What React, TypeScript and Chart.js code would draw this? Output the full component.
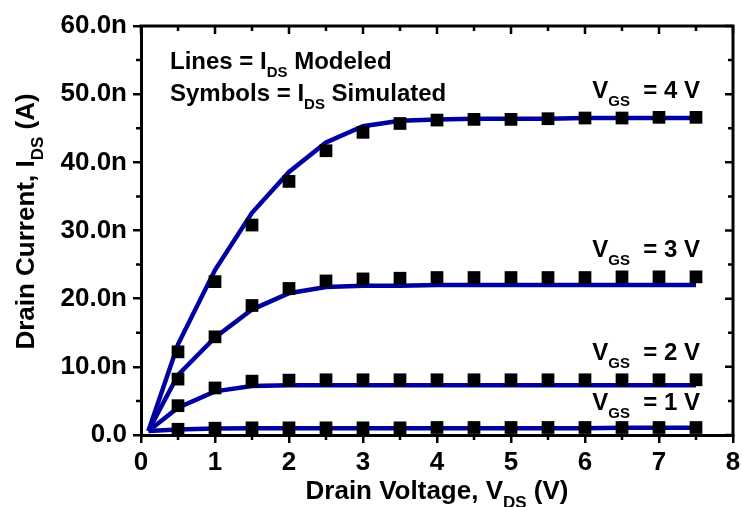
import React, { useEffect, useRef } from 'react';
import { Chart, registerables } from 'chart.js';

Chart.register(...registerables);

// ---------- data ----------
const vdsModeled = [0.1, 0.5, 1, 1.5, 2, 2.5, 3, 3.5, 4, 4.5, 5, 5.5, 6, 6.5, 7, 7.5];
const vdsSimulated = [0.5, 1, 1.5, 2, 2.5, 3, 3.5, 4, 4.5, 5, 5.5, 6, 6.5, 7, 7.5];

const modeledVgs4 = [0.6, 13.3, 24.2, 32.6, 38.6, 42.9, 45.3, 46.1, 46.3, 46.4, 46.4, 46.4, 46.5, 46.5, 46.5, 46.5];
const modeledVgs3 = [0.6, 8.8, 14.3, 18.4, 20.8, 21.7, 21.9, 21.9, 22.0, 22.0, 22.0, 22.0, 22.0, 22.0, 22.0, 22.0];
const modeledVgs2 = [0.6, 4.0, 6.4, 7.2, 7.3, 7.3, 7.3, 7.3, 7.3, 7.3, 7.3, 7.3, 7.3, 7.3, 7.3, 7.3];
const modeledVgs1 = [0.6, 0.8, 0.95, 1.0, 1.0, 1.0, 1.0, 1.0, 1.0, 1.0, 1.0, 1.0, 1.0, 1.05, 1.05, 1.05];

const simulatedVgs4 = [12.2, 22.5, 30.8, 37.2, 41.7, 44.4, 45.7, 46.2, 46.3, 46.3, 46.4, 46.5, 46.5, 46.6, 46.6];
const simulatedVgs3 = [8.2, 14.4, 19.0, 21.5, 22.6, 22.9, 23.0, 23.1, 23.1, 23.1, 23.1, 23.1, 23.2, 23.2, 23.2];
const simulatedVgs2 = [4.3, 6.9, 7.9, 8.05, 8.1, 8.1, 8.1, 8.1, 8.1, 8.1, 8.1, 8.1, 8.1, 8.1, 8.1];
const simulatedVgs1 = [0.84, 1.0, 1.05, 1.05, 1.05, 1.05, 1.05, 1.1, 1.1, 1.1, 1.1, 1.1, 1.1, 1.1, 1.1];

const xTickValues = [0, 1, 2, 3, 4, 5, 6, 7, 8];
const yTickValues = [0, 10, 20, 30, 40, 50, 60];
const xMinorTicks = [0.5, 1.5, 2.5, 3.5, 4.5, 5.5, 6.5, 7.5];
const yMinorTicks = [5, 15, 25, 35, 45, 55];

const vgsLabels = ['4', '3', '2', '1'];

const FONT = '"Liberation Sans", Arial, Helvetica, sans-serif';
const BLUE = '#0000A0';

type Part = { t: string; sub?: boolean };

function drawRich(
  ctx: CanvasRenderingContext2D,
  x: number,
  y: number,
  parts: Part[],
  size: number,
  subSize: number,
  align: 'left' | 'center' | 'right'
) {
  let w = 0;
  const widths: number[] = [];
  for (const p of parts) {
    ctx.font = `bold ${p.sub ? subSize : size}px ${FONT}`;
    const m = ctx.measureText(p.t).width;
    widths.push(m);
    w += m;
  }
  let cx = align === 'right' ? x - w : align === 'center' ? x - w / 2 : x;
  ctx.textAlign = 'left';
  ctx.textBaseline = 'alphabetic';
  parts.forEach((p, i) => {
    ctx.font = `bold ${p.sub ? subSize : size}px ${FONT}`;
    ctx.fillText(p.t, cx, p.sub ? y + subSize * 0.55 : y);
    cx += widths[i];
  });
}

const decorPlugin = {
  id: 'decor',
  afterDraw(chart: any) {
    const ctx: CanvasRenderingContext2D = chart.ctx;
    const { left, right, top, bottom } = chart.chartArea;
    const xs = chart.scales.x;
    const ys = chart.scales.y;
    ctx.save();
    ctx.strokeStyle = '#000';
    ctx.fillStyle = '#000';

    // top and right frame lines
    ctx.lineWidth = 3;
    ctx.beginPath();
    ctx.moveTo(left - 1.5, top);
    ctx.lineTo(right, top);
    ctx.lineTo(right, bottom + 1.5);
    ctx.stroke();

    ctx.lineWidth = 2.5;
    ctx.beginPath();
    xTickValues.forEach((v) => {
      const px = xs.getPixelForValue(v);
      ctx.moveTo(px, top);
      ctx.lineTo(px, top + 8);
    });
    xMinorTicks.forEach((v) => {
      const px = xs.getPixelForValue(v);
      ctx.moveTo(px, top);
      ctx.lineTo(px, top + 5);
    });
    yTickValues.forEach((v) => {
      const py = ys.getPixelForValue(v);
      ctx.moveTo(right, py);
      ctx.lineTo(right - 8, py);
    });
    yMinorTicks.forEach((v) => {
      const py = ys.getPixelForValue(v);
      ctx.moveTo(right, py);
      ctx.lineTo(right - 5, py);
    });
    xMinorTicks.forEach((v) => {
      const px = xs.getPixelForValue(v);
      ctx.moveTo(px, bottom);
      ctx.lineTo(px, bottom + 5);
    });
    yMinorTicks.forEach((v) => {
      const py = ys.getPixelForValue(v);
      ctx.moveTo(left, py);
      ctx.lineTo(left - 5, py);
    });
    ctx.stroke();

    // annotations
    drawRich(ctx, 170, 69, [{ t: 'Lines = I' }, { t: 'DS', sub: true }, { t: ' Modeled' }], 24, 15, 'left');
    drawRich(ctx, 170, 101, [{ t: 'Symbols = I' }, { t: 'DS', sub: true }, { t: ' Simulated' }], 24, 15, 'left');

    const labelBase = [98, 257, 360, 410];
    vgsLabels.forEach((lbl, i) => {
      drawRich(
        ctx,
        700,
        labelBase[i],
        [{ t: 'V' }, { t: 'GS', sub: true }, { t: '  = ' + lbl + ' V' }],
        24,
        15,
        'right'
      );
    });

    // x title
    drawRich(ctx, (left + right) / 2, 499, [{ t: 'Drain Voltage, V' }, { t: 'DS', sub: true }, { t: ' (V)' }], 26, 17, 'center');

    // y title
    ctx.translate(34, (top + bottom) / 2 - 9);
    ctx.rotate(-Math.PI / 2);
    drawRich(ctx, 0, 0, [{ t: 'Drain Current, I' }, { t: 'DS', sub: true }, { t: ' (A)' }], 26, 17, 'center');
    ctx.restore();
  },
};

export default function App() {
  const canvasRef = useRef<HTMLCanvasElement | null>(null);

  useEffect(() => {
    const canvas = canvasRef.current;
    if (!canvas) return;

    const toPts = (xs: number[], ys: number[]) => xs.map((x, i) => ({ x, y: ys[i] }));

    const lineSets = [modeledVgs4, modeledVgs3, modeledVgs2, modeledVgs1].map((d, i) => ({
      label: 'Modeled VGS=' + vgsLabels[i],
      data: toPts(vdsModeled, d),
      showLine: true,
      borderColor: BLUE,
      borderWidth: 4.5,
      pointRadius: 0,
      tension: 0,
      order: 2,
    }));
    const symSets = [simulatedVgs4, simulatedVgs3, simulatedVgs2, simulatedVgs1].map((d, i) => ({
      label: 'Simulated VGS=' + vgsLabels[i],
      data: toPts(vdsSimulated, d),
      showLine: false,
      pointStyle: 'rect',
      pointRadius: 9,
      pointBackgroundColor: '#000',
      pointBorderColor: '#000',
      pointBorderWidth: 0,
      order: 1,
    }));

    const chart = new Chart(canvas, {
      type: 'scatter',
      data: { datasets: [...lineSets, ...symSets] as any },
      options: {
        animation: false,
        responsive: false,
        maintainAspectRatio: false,
        layout: { padding: { left: 0, right: 5, top: 26, bottom: 0 } },
        plugins: { legend: { display: false }, tooltip: { enabled: false } },
        scales: {
          x: {
            type: 'linear',
            min: 0,
            max: 8,
            afterBuildTicks: (s: any) => {
              s.ticks = xTickValues.map((v) => ({ value: v }));
            },
            afterFit: (s: any) => {
              s.height = 72;
              s.paddingLeft = 0;
              s.paddingRight = 0;
            },
            border: { display: true, color: '#000', width: 3 },
            grid: { display: true, drawOnChartArea: false, drawTicks: true, tickLength: 8, color: '#000', lineWidth: 2.5 },
            ticks: {
              padding: 4,
              color: '#000',
              font: { family: FONT, size: 26, weight: 'bold' },
              maxRotation: 0,
              callback: (v: any) => String(v),
            },
          },
          y: {
            type: 'linear',
            min: 0,
            max: 60,
            afterBuildTicks: (s: any) => {
              s.ticks = yTickValues.map((v) => ({ value: v }));
            },
            afterFit: (s: any) => {
              s.width = 141;
              s.paddingTop = 0;
              s.paddingBottom = 0;
            },
            border: { display: true, color: '#000', width: 3 },
            grid: { display: true, drawOnChartArea: false, drawTicks: true, tickLength: 8, color: '#000', lineWidth: 2.5 },
            ticks: {
              padding: 6,
              color: '#000',
              font: { family: FONT, size: 26, weight: 'bold' },
              callback: (v: any) => (Number(v) === 0 ? '0.0' : Number(v).toFixed(1) + 'n'),
            },
          },
        },
      } as any,
      plugins: [decorPlugin],
    });

    return () => chart.destroy();
  }, []);

  return (
    <div style={{ position: 'absolute', left: 0, top: 0, width: 742, height: 507, background: '#fff' }}>
      <canvas ref={canvasRef} width={742} height={507} style={{ display: 'block', width: 742, height: 507 }} />
    </div>
  );
}
